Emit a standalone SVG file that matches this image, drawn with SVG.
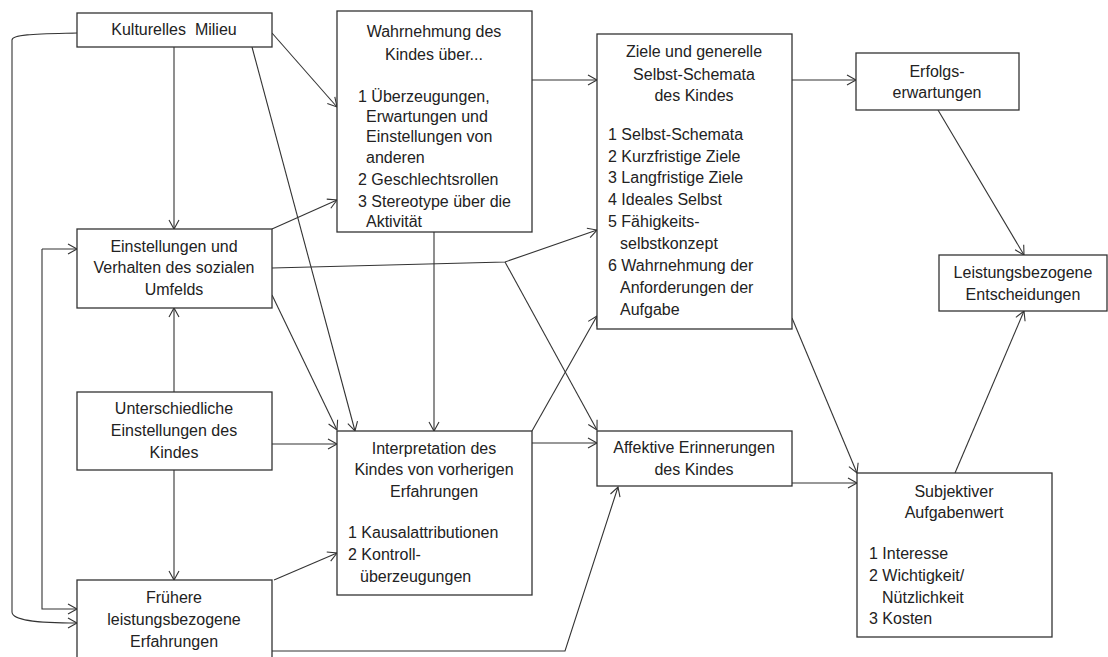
<svg xmlns="http://www.w3.org/2000/svg" width="1108" height="657" viewBox="0 0 1108 657">
<defs>
<marker id="arr" markerUnits="userSpaceOnUse" markerWidth="12" markerHeight="12" refX="9" refY="5" orient="auto" overflow="visible">
<path d="M0,0 L9,5 L0,10" fill="none" stroke="#333" stroke-width="1.1"/>
</marker>
<style>
rect.box{fill:#fff;stroke:#333;stroke-width:1.3}
text{font-family:"Liberation Sans",Arial,sans-serif;font-size:16px;fill:#222}
text.c{text-anchor:middle}
#connectors path,#connectors line{fill:none;stroke:#333;stroke-width:1.1}
</style>
</defs>
<rect width="1108" height="657" fill="#fff"/>

<g id="connectors">
<path d="M77,33 C40,34 12,34 12,40 L12,612 C12,621 40,623 77,623" marker-end="url(#arr)"/>
<path d="M42,249 L42,609 L77,609" marker-end="url(#arr)"/>
<line x1="42" y1="249" x2="77" y2="249" marker-end="url(#arr)"/>
<line x1="174" y1="47" x2="174" y2="229" marker-end="url(#arr)"/>
<line x1="272" y1="33" x2="337" y2="107" marker-end="url(#arr)"/>
<line x1="252" y1="47" x2="355" y2="431" marker-end="url(#arr)"/>
<line x1="272" y1="229" x2="337" y2="200" marker-end="url(#arr)"/>
<path d="M272,268 L505,262 L597,230" marker-end="url(#arr)"/>
<line x1="505" y1="262" x2="597" y2="430" marker-end="url(#arr)"/>
<line x1="272" y1="295" x2="337" y2="430" marker-end="url(#arr)"/>
<line x1="174" y1="392" x2="174" y2="308" marker-end="url(#arr)"/>
<line x1="174" y1="470" x2="174" y2="580" marker-end="url(#arr)"/>
<line x1="272" y1="444" x2="337" y2="444" marker-end="url(#arr)"/>
<line x1="274" y1="580" x2="337" y2="553" marker-end="url(#arr)"/>
<path d="M272,651 L565,651 L618,487" marker-end="url(#arr)"/>
<line x1="434" y1="232" x2="434" y2="431" marker-end="url(#arr)"/>
<line x1="532" y1="80" x2="597" y2="80" marker-end="url(#arr)"/>
<line x1="532" y1="431" x2="597" y2="316" marker-end="url(#arr)"/>
<line x1="532" y1="443" x2="597" y2="443" marker-end="url(#arr)"/>
<line x1="792" y1="80" x2="856" y2="80" marker-end="url(#arr)"/>
<line x1="792" y1="318" x2="857" y2="473" marker-end="url(#arr)"/>
<line x1="792" y1="483" x2="857" y2="483" marker-end="url(#arr)"/>
<line x1="938" y1="110" x2="1024" y2="255" marker-end="url(#arr)"/>
<line x1="955" y1="473" x2="1024" y2="311" marker-end="url(#arr)"/>
</g>

<g id="kulturelles">
<rect class="box" x="77" y="13" width="195" height="34"/>
<text class="c" x="174" y="35" xml:space="preserve">Kulturelles  Milieu</text>
</g>

<g id="einstellungen-umfeld">
<rect class="box" x="77" y="229" width="195" height="79"/>
<text class="c" x="174" y="252">Einstellungen und</text>
<text class="c" x="174" y="273">Verhalten des sozialen</text>
<text class="c" x="174" y="295">Umfelds</text>
</g>

<g id="unterschiedliche">
<rect class="box" x="77" y="392" width="195" height="78"/>
<text class="c" x="174" y="414">Unterschiedliche</text>
<text class="c" x="174" y="436">Einstellungen des</text>
<text class="c" x="174" y="458">Kindes</text>
</g>

<g id="fruehere">
<rect class="box" x="77" y="580" width="195" height="90"/>
<text class="c" x="174" y="603">Frühere</text>
<text class="c" x="174" y="625">leistungsbezogene</text>
<text class="c" x="174" y="647">Erfahrungen</text>
</g>

<g id="wahrnehmung">
<rect class="box" x="337" y="11" width="195" height="221"/>
<text class="c" x="434" y="37">Wahrnehmung des</text>
<text class="c" x="434" y="60">Kindes über...</text>
<text x="358" y="102">1 Überzeugungen,</text>
<text x="366" y="122">Erwartungen und</text>
<text x="366" y="142">Einstellungen von</text>
<text x="366" y="163">anderen</text>
<text x="358" y="185">2 Geschlechtsrollen</text>
<text x="358" y="207">3 Stereotype über die</text>
<text x="366" y="227">Aktivität</text>
</g>

<g id="interpretation">
<rect class="box" x="337" y="431" width="195" height="164"/>
<text class="c" x="434" y="454">Interpretation des</text>
<text class="c" x="434" y="475">Kindes von vorherigen</text>
<text class="c" x="434" y="497">Erfahrungen</text>
<text x="348" y="538">1 Kausalattributionen</text>
<text x="348" y="560">2 Kontroll-</text>
<text x="360" y="582">überzeugungen</text>
</g>

<g id="ziele">
<rect class="box" x="597" y="34" width="195" height="295"/>
<text class="c" x="694" y="57">Ziele und generelle</text>
<text class="c" x="694" y="80">Selbst-Schemata</text>
<text class="c" x="694" y="101">des Kindes</text>
<text x="608" y="140">1 Selbst-Schemata</text>
<text x="608" y="162">2 Kurzfristige Ziele</text>
<text x="608" y="183">3 Langfristige Ziele</text>
<text x="608" y="205">4 Ideales Selbst</text>
<text x="608" y="227">5 Fähigkeits-</text>
<text x="620" y="249">selbstkonzept</text>
<text x="608" y="271">6 Wahrnehmung der</text>
<text x="620" y="293">Anforderungen der</text>
<text x="620" y="315">Aufgabe</text>
</g>

<g id="affektive">
<rect class="box" x="597" y="431" width="195" height="55"/>
<text class="c" x="694" y="453">Affektive Erinnerungen</text>
<text class="c" x="694" y="475">des Kindes</text>
</g>

<g id="erfolgserwartungen">
<rect class="box" x="856" y="53" width="163" height="57"/>
<text class="c" x="937" y="77">Erfolgs-</text>
<text class="c" x="937" y="98">erwartungen</text>
</g>

<g id="entscheidungen">
<rect class="box" x="939" y="255" width="168" height="56"/>
<text class="c" x="1023" y="278">Leistungsbezogene</text>
<text class="c" x="1023" y="300">Entscheidungen</text>
</g>

<g id="aufgabenwert">
<rect class="box" x="857" y="473" width="195" height="164"/>
<text class="c" x="954" y="497">Subjektiver</text>
<text class="c" x="954" y="518">Aufgabenwert</text>
<text x="869" y="559">1 Interesse</text>
<text x="869" y="581">2 Wichtigkeit/</text>
<text x="882" y="603">Nützlichkeit</text>
<text x="869" y="624">3 Kosten</text>
</g>
</svg>
